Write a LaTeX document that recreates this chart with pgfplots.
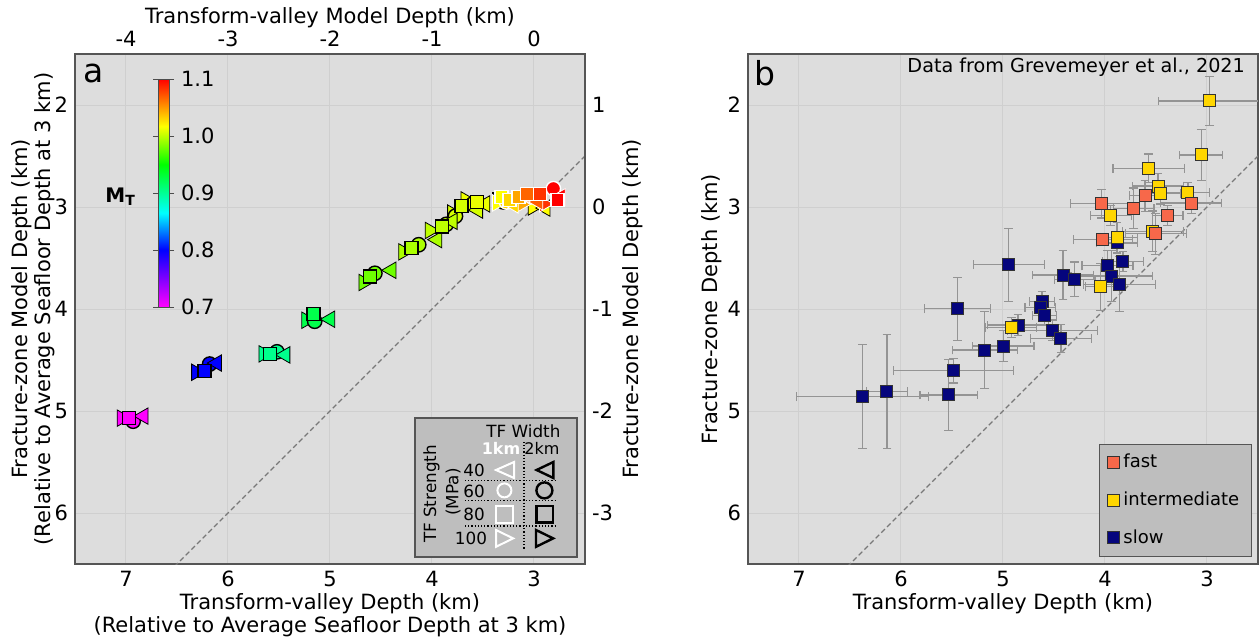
\documentclass[border=0pt]{standalone}
\usepackage{fontspec}
\setmainfont{DejaVu Sans}
\usepackage{pgfplots}
\pgfplotsset{compat=1.18}

\definecolor{bgc}{RGB}{221,221,221}
\definecolor{gridc}{RGB}{207,207,207}
\definecolor{framec}{RGB}{85,85,85}
\definecolor{legc}{RGB}{190,190,190}
\definecolor{fastc}{RGB}{247,104,74}
\definecolor{intc}{RGB}{255,214,0}
\definecolor{slowc}{RGB}{5,5,125}
\definecolor{errc}{RGB}{148,148,148}
\definecolor{diagc}{RGB}{120,120,120}

\pgfplotsset{
  colormap={mt}{rgb255(0cm)=(255,0,255) rgb255(1cm)=(0,0,255) rgb255(1.65cm)=(0,255,255) rgb255(2.5cm)=(0,255,0) rgb255(3.17cm)=(255,255,0) rgb255(4cm)=(255,0,0)},
  basepanel/.style={
    scale only axis, width=255pt, height=255pt,
    xmin=2.5, xmax=7.5, ymin=1.5, ymax=6.5,
    x dir=reverse, y dir=reverse,
    axis background/.style={fill=bgc},
    axis line style={draw=framec, line width=0.6pt},
    grid=major, grid style={draw=gridc, line width=0.5pt},
    major tick length=0pt,
    xtick={3,4,5,6,7}, ytick={2,3,4,5,6},
    xtick pos=left, ytick pos=left,
    tick label style={font=\fontsize{10.5}{12}\selectfont},
    label style={font=\fontsize{10.5}{11.5}\selectfont},
    /pgf/number format/assume math mode=true,
  },
  mk/.style={scatter, only marks, scatter src=explicit, mark options={line width=0.7pt}},
  ebar/.style={error bars/.cd, x dir=both, x explicit, y dir=both, y explicit,
    error bar style={draw=errc, line width=0.6pt},
    error mark options={rotate=90, draw=errc, line width=0.6pt, mark size=2.2pt}},
}

\begin{document}
\begin{tikzpicture}

% ---------------- panel a ----------------
\begin{axis}[basepanel, at={(37.5pt,36.5pt)}, anchor=south west,
  colormap name=mt, point meta min=0.7, point meta max=1.1,
  colorbar,
  colorbar style={
    at={(parent axis.north west)}, anchor=north west, xshift=33pt, yshift=-12.5pt,
    scale only axis, width=5.5pt, height=114pt,
    ytick={0.7,0.8,0.9,1.0,1.1},
    yticklabel style={font=\fontsize{10.5}{12}\selectfont, /pgf/number format/.cd, fixed, fixed zerofill, precision=1, assume math mode=true},
    major tick length=2.5pt, tick align=outside,
    axis line style={draw=black!70, line width=0.4pt},
    tick style={draw=black!70, line width=0.4pt},
  },
  xlabel={Transform-valley Depth (km)\\(Relative to Average Seafloor Depth at 3 km)},
  xlabel style={align=center, at={(axis description cs:0.5,-0.101)}, anchor=center},
  ylabel={Fracture-zone Model Depth (km)\\(Relative to Average Seafloor Depth at 3 km)},
  ylabel style={align=center, at={(axis description cs:-0.081,0.5)}, anchor=center},
]
\addplot[diagc, dashed, line width=0.6pt, dash pattern=on 2.5pt off 1.5pt, forget plot] coordinates {(1,1) (8,8)};

% 2 km width (black edge)
\addplot[mk, mark=triangle*, mark size=4.75pt, mark options={rotate=-90},
  scatter/use mapped color={draw=black, fill=mapped color}]
  table[meta=m, row sep=\\] {x y m\\
7.04 5.07 0.700\\ 6.31 4.62 0.800\\ 5.65 4.44 0.903\\ 5.23 4.11 0.925\\ 4.67 3.74 0.979\\
4.28 3.44 0.995\\ 4.02 3.23 1.000\\ 3.80 3.06 1.006\\ 3.67 2.93 1.012\\ 3.01 3.00 1.017\\};
\addplot[mk, mark=*, mark size=3.6pt,
  scatter/use mapped color={draw=black, fill=mapped color}]
  table[meta=m, row sep=\\] {x y m\\
6.93 5.10 0.700\\ 6.18 4.54 0.800\\ 5.52 4.42 0.903\\ 5.15 4.12 0.925\\ 4.56 3.65 0.979\\
4.13 3.37 0.995\\ 3.86 3.17 1.000\\ 3.77 3.09 1.006\\ 3.60 2.97 1.012\\ 3.30 2.95 1.017\\};
\addplot[mk, mark=triangle*, mark size=4.75pt, mark options={rotate=90},
  scatter/use mapped color={draw=black, fill=mapped color}]
  table[meta=m, row sep=\\] {x y m\\
6.83 5.05 0.700\\ 6.11 4.53 0.800\\ 5.44 4.45 0.903\\ 5.00 4.10 0.925\\ 4.40 3.62 0.979\\
3.95 3.32 0.995\\ 3.80 3.14 1.000\\ 3.55 3.03 1.006\\ 3.48 2.97 1.012\\ 2.89 3.01 1.017\\};
\addplot[mk, mark=square*, mark size=3.25pt,
  scatter/use mapped color={draw=black, fill=mapped color}]
  table[meta=m, row sep=\\] {x y m\\
6.97 5.07 0.700\\ 6.23 4.61 0.800\\ 5.59 4.44 0.903\\ 5.16 4.05 0.925\\ 4.61 3.68 0.979\\
4.20 3.40 0.995\\ 3.90 3.19 1.000\\ 3.71 2.99 1.006\\ 3.56 2.95 1.012\\ 3.34 2.92 1.017\\};

% 1 km width (white edge)
\addplot[mk, mark=triangle*, mark size=4.75pt, mark options={rotate=-90},
  scatter/use mapped color={draw=white, fill=mapped color}]
  table[meta=m, row sep=\\] {x y m\\
3.36 2.96 1.017\\ 3.12 2.97 1.045\\ 2.90 2.97 1.083\\};
\addplot[mk, mark=*, mark size=3.6pt,
  scatter/use mapped color={draw=white, fill=mapped color}]
  table[meta=m, row sep=\\] {x y m\\
3.27 2.95 1.030\\ 3.02 2.90 1.067\\ 2.81 2.82 1.100\\};
\addplot[mk, mark=triangle*, mark size=4.75pt, mark options={rotate=90},
  scatter/use mapped color={draw=white, fill=mapped color}]
  table[meta=m, row sep=\\] {x y m\\
3.20 2.98 1.030\\ 2.96 2.95 1.070\\ 2.74 2.90 1.100\\};
\addplot[mk, mark=square*, mark size=3.25pt,
  scatter/use mapped color={draw=white, fill=mapped color}]
  table[meta=m, row sep=\\] {x y m\\
3.32 2.90 1.017\\ 3.24 2.93 1.030\\ 3.15 2.90 1.046\\ 3.07 2.87 1.067\\ 2.94 2.87 1.083\\ 2.77 2.93 1.100\\};
\end{axis}

% top / right model-depth axes of panel a
\begin{axis}[scale only axis, width=255pt, height=255pt, at={(37.5pt,36.5pt)}, anchor=south west,
  xmin=-4.5, xmax=0.5, ymin=-3.5, ymax=1.5,
  axis x line*=top, axis y line*=right,
  axis line style={draw=framec, line width=0.6pt, -},
  major tick length=0pt, xtick={-4,-3,-2,-1,0}, ytick={-3,-2,-1,0,1},
  tick label style={font=\fontsize{10.5}{12}\selectfont},
  label style={font=\fontsize{10.5}{11.5}\selectfont},
  /pgf/number format/assume math mode=true,
  xlabel={Transform-valley Model Depth (km)},
  xlabel style={at={(axis description cs:0.5,1.0706)}, anchor=center},
  ylabel={Fracture-zone Model Depth (km)},
  ylabel style={at={(axis description cs:1.094,0.5)}, anchor=center, rotate=0},
]
\end{axis}

% ---------------- panel b ----------------
\begin{axis}[basepanel, at={(374pt,36.5pt)}, anchor=south west,
  xlabel={Transform-valley Depth (km)},
  xlabel style={at={(axis description cs:0.5,-0.078)}, anchor=center},
  ylabel={Fracture-zone Depth (km)},
  ylabel style={at={(axis description cs:-0.0706,0.5)}, anchor=center},
  reverse legend,
  legend style={at={(axis description cs:0.988,0.014)}, anchor=south east,
    fill=legc, draw=framec, line width=0.6pt, font=\fontsize{9}{10}\selectfont,
    row sep=6.5pt, inner xsep=4pt, inner ysep=3pt, cells={anchor=west}},
  legend image code/.code={\draw[#1] plot coordinates {(0.14cm,0cm)};},
]
\addplot[diagc, dashed, line width=0.6pt, dash pattern=on 2.5pt off 1.5pt, forget plot] coordinates {(1,1) (8,8)};

\addplot[only marks, mark=square*, mark size=3pt, mark options={draw=black!80, fill=slowc, line width=0.5pt}, ebar]
  table[x=x, y=y, x error=ex, y error=ey, row sep=\\] {x y ex ey\\
3.882 3.352 0.20 0.10\\
3.824 3.534 0.20 0.10\\
3.976 3.577 0.25 0.15\\
4.943 3.567 0.35 0.36\\
4.411 3.667 0.30 0.24\\
4.298 3.710 0.20 0.17\\
3.933 3.677 0.40 0.25\\
3.857 3.756 0.35 0.27\\
5.446 3.998 0.32 0.31\\
4.617 3.925 0.12 0.10\\
4.635 3.982 0.15 0.06\\
4.592 4.064 0.12 0.10\\
4.852 4.157 0.30 0.10\\
4.512 4.207 0.44 0.10\\
4.432 4.290 0.30 0.14\\
4.997 4.363 0.30 0.15\\
5.178 4.402 0.32 0.38\\
5.486 4.605 0.59 0.12\\
5.533 4.843 0.28 0.35\\
6.138 4.810 0.20 0.56\\
6.377 4.860 0.65 0.51\\};
\addlegendentry{slow}

\addplot[only marks, mark=square*, mark size=3pt, mark options={draw=black!80, fill=intc, line width=0.5pt}, ebar]
  table[x=x, y=y, x error=ex, y error=ey, row sep=\\] {x y ex ey\\
2.973 1.960 0.50 0.24\\
3.057 2.490 0.21 0.25\\
3.571 2.620 0.35 0.14\\
3.480 2.795 0.25 0.12\\
3.458 2.871 0.20 0.10\\
3.187 2.861 0.21 0.10\\
3.944 3.083 0.20 0.10\\
3.882 3.299 0.20 0.15\\
3.531 3.239 0.30 0.20\\
4.041 3.783 0.15 0.23\\
4.918 4.180 0.25 0.10\\};
\addlegendentry{intermediate}

\addplot[only marks, mark=square*, mark size=3pt, mark options={draw=black!80, fill=fastc, line width=0.5pt}, ebar]
  table[x=x, y=y, x error=ex, y error=ey, row sep=\\] {x y ex ey\\
4.031 2.967 0.31 0.14\\
3.607 2.891 0.15 0.15\\
3.719 3.014 0.20 0.20\\
3.154 2.961 0.30 0.10\\
3.386 3.083 0.15 0.10\\
3.502 3.262 0.30 0.20\\
4.020 3.322 0.29 0.05\\};
\addlegendentry{fast}
\end{axis}

% ---------------- annotations ----------------
\node[font=\fontsize{16.5}{18}\selectfont] at (47pt,282pt) {a};
\node[font=\fontsize{16.5}{18}\selectfont] at (382.5pt,282pt) {b};
\node[font=\fontsize{9.6}{11}\selectfont, anchor=east] at (626pt,285pt) {Data from Grevemeyer et al., 2021};
\node[font=\bfseries\fontsize{10}{12}\selectfont] at (60.3pt,220.2pt) {M\textsubscript{T}};

% panel a custom legend
\draw[draw=framec, fill=legc, line width=0.6pt] (207.5pt,40pt) rectangle (288.5pt,109.5pt);
\node[font=\fontsize{8.4}{10}\selectfont] at (261.7pt,102.9pt) {TF Width};
\node[font=\bfseries\fontsize{8}{10}\selectfont, text=white] at (250.5pt,94.5pt) {1km};
\node[font=\fontsize{8}{10}\selectfont] at (271pt,94.5pt) {2km};
\node[font=\fontsize{8.4}{10}\selectfont, rotate=90] at (215.8pt,71.5pt) {TF Strength};
\node[font=\fontsize{8.4}{10}\selectfont, rotate=90] at (226.5pt,72.5pt) {(MPa)};
\node[font=\fontsize{8.4}{10}\selectfont] at (237pt,83.5pt) {40};
\node[font=\fontsize{8.4}{10}\selectfont] at (237pt,72.7pt) {60};
\node[font=\fontsize{8.4}{10}\selectfont] at (237pt,61.3pt) {80};
\node[font=\fontsize{8.4}{10}\selectfont] at (235.5pt,49.3pt) {100};
\draw[densely dotted, line width=0.6pt] (262pt,97.6pt) -- (262pt,43.8pt);
\draw[densely dotted, line width=0.6pt] (232.5pt,78.2pt) -- (278.3pt,78.2pt);
\draw[densely dotted, line width=0.6pt] (232.5pt,68.2pt) -- (278.3pt,68.2pt);
\draw[densely dotted, line width=0.6pt] (232.5pt,55.5pt) -- (278.3pt,55.5pt);
% glyphs: 1 km (white) and 2 km (black)
\draw[white, line width=1pt, line join=miter] (248pt,83.5pt) -- (257pt,87.5pt) -- (257pt,79.5pt) -- cycle;
\draw[black, line width=1.2pt, line join=miter] (268.3pt,83.5pt) -- (276.7pt,87.5pt) -- (276.7pt,79.5pt) -- cycle;
\draw[white, line width=1pt] (252.2pt,73.3pt) circle (3.5pt);
\draw[black, line width=1.2pt] (272.2pt,73.3pt) circle (4pt);
\draw[white, line width=1pt] (248.2pt,57.2pt) rectangle (256.4pt,65.4pt);
\draw[black, line width=1.2pt] (268.2pt,57.2pt) rectangle (276.4pt,65.4pt);
\draw[white, line width=1pt, line join=miter] (256.6pt,49.3pt) -- (248pt,53.5pt) -- (248pt,45.1pt) -- cycle;
\draw[black, line width=1.2pt, line join=miter] (276.6pt,49.3pt) -- (268pt,53.5pt) -- (268pt,45.1pt) -- cycle;

\pgfresetboundingbox
\path[use as bounding box] (0pt,0pt) rectangle (629.5pt,318.5pt);
\end{tikzpicture}
\end{document}
